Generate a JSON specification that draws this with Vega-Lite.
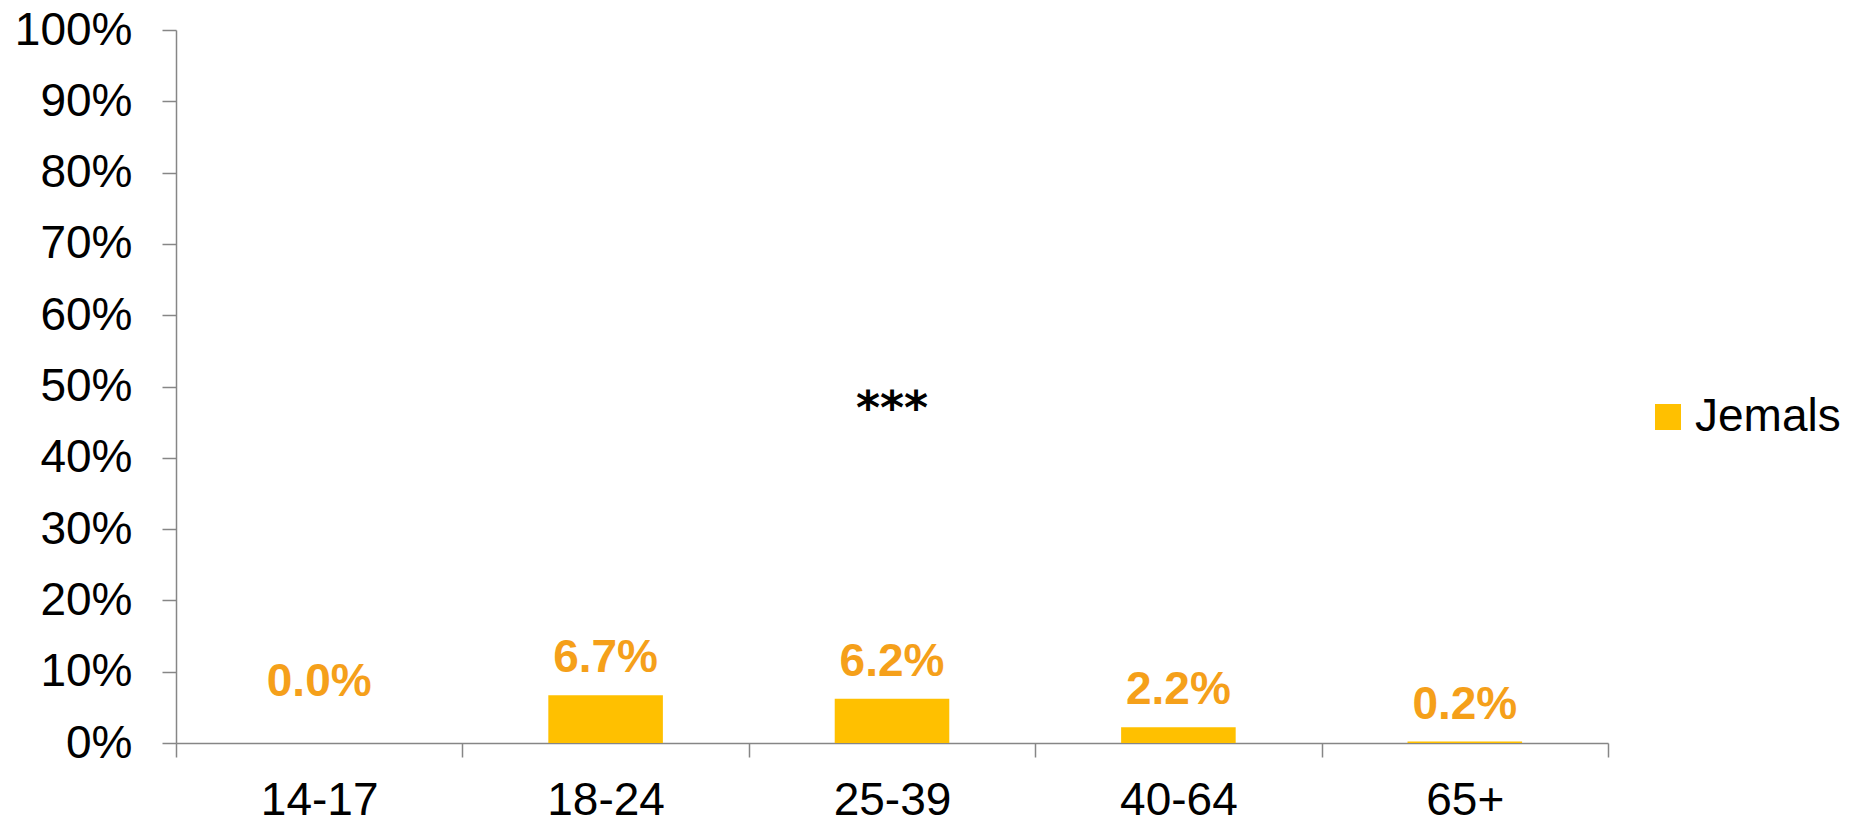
{
  "$schema": "https://vega.github.io/schema/vega-lite/v6.json",
  "width": 1432,
  "height": 713,
  "autosize": {"type": "none"},
  "padding": {"left": 176, "top": 30, "right": 253, "bottom": 76},
  "background": "white",
  "config": {
    "view": {"stroke": null},
    "font": "Liberation Sans",
    "axis": {"domainColor": "#868686", "tickColor": "#868686", "domainWidth": 1.5, "tickWidth": 1.5, "labelFont": "Liberation Sans", "labelColor": "#000000", "labelFontSize": 46, "grid": false, "title": null}
  },
  "datasets": {
    "main": [
      {"age": "14-17", "value": 0.0, "series": "Jemals"},
      {"age": "18-24", "value": 0.067, "series": "Jemals"},
      {"age": "25-39", "value": 0.062, "series": "Jemals"},
      {"age": "40-64", "value": 0.022, "series": "Jemals"},
      {"age": "65+", "value": 0.002, "series": "Jemals"}
    ],
    "notes": [
      {"age": "25-39", "value": 0.467, "note": "***"}
    ]
  },
  "layer": [
    {
      "data": {"name": "main"},
      "mark": {"type": "bar", "width": {"band": 0.4}},
      "encoding": {
        "x": {"field": "age", "type": "nominal", "sort": null,
              "scale": {"paddingInner": 0, "paddingOuter": 0},
              "axis": {"labelAngle": 0, "tickBand": "extent", "tickSize": 14, "labelPadding": 21, "title": null}},
        "y": {"field": "value", "type": "quantitative",
              "scale": {"domain": [0, 1], "nice": false},
              "axis": {"format": ".0%", "values": [0, 0.1, 0.2, 0.3, 0.4, 0.5, 0.6, 0.7, 0.8, 0.9, 1], "tickSize": 14, "labelPadding": 30, "title": null}},
        "color": {"field": "series", "type": "nominal",
                  "scale": {"range": ["#FFC000"]},
                  "legend": {"title": null, "orient": "none", "legendX": 1469, "legendY": 364, "symbolType": "square", "symbolSize": 676, "symbolStrokeWidth": 0, "labelFontSize": 46, "labelFont": "Liberation Sans", "labelColor": "#000000", "labelOffset": 4, "padding": 0}}
      }
    },
    {
      "data": {"name": "main"},
      "transform": [{"filter": "datum.value > 0"}],
      "mark": {"type": "text", "baseline": "alphabetic", "dy": -23, "fontSize": 46, "fontWeight": "bold", "font": "Liberation Sans", "color": "#F5A01A"},
      "encoding": {
        "x": {"field": "age", "type": "nominal", "sort": null},
        "y": {"field": "value", "type": "quantitative"},
        "text": {"field": "value", "type": "quantitative", "format": ".1%"}
      }
    },
    {
      "data": {"name": "main"},
      "transform": [{"filter": "datum.value == 0"}],
      "mark": {"type": "text", "baseline": "alphabetic", "dy": -47, "fontSize": 46, "fontWeight": "bold", "font": "Liberation Sans", "color": "#F5A01A"},
      "encoding": {
        "x": {"field": "age", "type": "nominal", "sort": null},
        "y": {"field": "value", "type": "quantitative"},
        "text": {"field": "value", "type": "quantitative", "format": ".1%"}
      }
    },
    {
      "data": {"name": "notes"},
      "mark": {"type": "text", "baseline": "middle", "fontSize": 46, "fontWeight": "bold", "font": "DejaVu Sans", "color": "#000000"},
      "encoding": {
        "x": {"field": "age", "type": "nominal", "sort": null},
        "y": {"field": "value", "type": "quantitative"},
        "text": {"field": "note", "type": "nominal"}
      }
    }
  ]
}
